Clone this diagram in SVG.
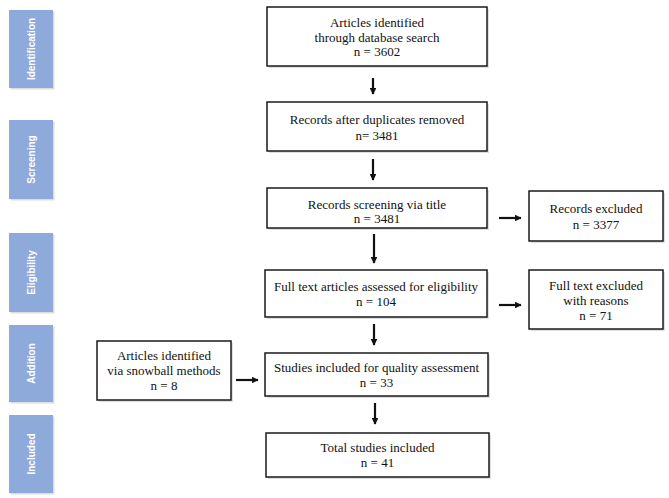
<svg xmlns="http://www.w3.org/2000/svg" width="669" height="498" viewBox="0 0 669 498">
<style>
.box{fill:#ffffff;stroke:#1a1a1a;stroke-width:1.5}
.shd{fill:#c8c8c8;opacity:0.6}
.t{font-family:"Liberation Serif","Times New Roman",serif;font-size:13px;fill:#111;text-anchor:middle}
.side{fill:#8eaadb}
.st{font-family:"Liberation Sans",Arial,sans-serif;font-size:10px;font-weight:bold;fill:#ffffff;text-anchor:middle}
.c{stroke:#111;stroke-width:2.2;fill:none}
</style>
<defs>
<marker id="ah" viewBox="0 0 10 10" refX="9" refY="5" markerWidth="3" markerHeight="3" orient="auto" markerUnits="strokeWidth">
<path d="M0,0 L10,5 L0,10 z" fill="#111"/>
</marker>
</defs>
<rect width="669" height="498" fill="#ffffff"/>

<g id="phase-identification">
<rect x="10.5" y="11.5" width="44" height="78" class="shd"/>
<rect x="9" y="10" width="44" height="78" class="side"/>
<text class="st" transform="translate(34.5,49) rotate(-90)">Identification</text>
</g>
<g id="phase-screening">
<rect x="10.5" y="121.5" width="44" height="79" class="shd"/>
<rect x="9" y="120" width="44" height="79" class="side"/>
<text class="st" transform="translate(34.5,159.5) rotate(-90)">Screening</text>
</g>
<g id="phase-eligibility">
<rect x="10.5" y="234.5" width="44" height="79" class="shd"/>
<rect x="9" y="233" width="44" height="79" class="side"/>
<text class="st" transform="translate(34.5,272.5) rotate(-90)">Eligibility</text>
</g>
<g id="phase-addition">
<rect x="10.5" y="326.5" width="44" height="77" class="shd"/>
<rect x="9" y="325" width="44" height="77" class="side"/>
<text class="st" transform="translate(34.5,363.5) rotate(-90)">Addition</text>
</g>
<g id="phase-included">
<rect x="10.5" y="416.5" width="44" height="78" class="shd"/>
<rect x="9" y="415" width="44" height="78" class="side"/>
<text class="st" transform="translate(34.5,454) rotate(-90)">Included</text>
</g>

<g id="n-identified">
<rect x="269" y="9" width="220" height="59" class="shd"/>
<rect x="267" y="7" width="220" height="59" class="box"/>
<text class="t" x="377" y="27">Articles identified</text>
<text class="t" x="377" y="41.5">through database search</text>
<text class="t" x="377" y="56">n = 3602</text>
</g>
<g id="n-duplicates">
<rect x="269" y="104" width="220" height="49" class="shd"/>
<rect x="267" y="102" width="220" height="49" class="box"/>
<text class="t" x="377" y="124">Records after duplicates removed</text>
<text class="t" x="377" y="139.5">n= 3481</text>
</g>
<g id="n-screening">
<rect x="269" y="190" width="220" height="40" class="shd"/>
<rect x="267" y="188" width="220" height="40" class="box"/>
<text class="t" x="377" y="209">Records screening via title</text>
<text class="t" x="377" y="223">n = 3481</text>
</g>
<g id="n-fulltext">
<rect x="267" y="272" width="222" height="47" class="shd"/>
<rect x="265" y="270" width="222" height="47" class="box"/>
<text class="t" x="376" y="291">Full text articles assessed for eligibility</text>
<text class="t" x="376" y="306">n = 104</text>
</g>
<g id="n-quality">
<rect x="267" y="355" width="223" height="43" class="shd"/>
<rect x="265" y="353" width="223" height="43" class="box"/>
<text class="t" x="376.5" y="372">Studies included for quality assessment</text>
<text class="t" x="376.5" y="387">n = 33</text>
</g>
<g id="n-total">
<rect x="268" y="435" width="223" height="44" class="shd"/>
<rect x="266" y="433" width="223" height="44" class="box"/>
<text class="t" x="377.5" y="452">Total studies included</text>
<text class="t" x="377.5" y="467">n = 41</text>
</g>
<g id="n-excluded">
<rect x="531" y="193" width="134" height="50" class="shd"/>
<rect x="529" y="191" width="134" height="50" class="box"/>
<text class="t" x="596" y="213">Records excluded</text>
<text class="t" x="596" y="229">n = 3377</text>
</g>
<g id="n-fulltext-excluded">
<rect x="531" y="272" width="134" height="59" class="shd"/>
<rect x="529" y="270" width="134" height="59" class="box"/>
<text class="t" x="596" y="290">Full text excluded</text>
<text class="t" x="596" y="305">with reasons</text>
<text class="t" x="596" y="320">n = 71</text>
</g>
<g id="n-snowball">
<rect x="99" y="343" width="134" height="59" class="shd"/>
<rect x="97" y="341" width="134" height="59" class="box"/>
<text class="t" x="164" y="360">Articles identified</text>
<text class="t" x="164" y="375">via snowball methods</text>
<text class="t" x="164" y="390">n = 8</text>
</g>

<g id="connectors">
<line class="c" x1="373" y1="78" x2="373" y2="94" marker-end="url(#ah)"/>
<line class="c" x1="373" y1="159" x2="373" y2="180" marker-end="url(#ah)"/>
<line class="c" x1="374" y1="234" x2="374" y2="263" marker-end="url(#ah)"/>
<line class="c" x1="374" y1="324" x2="374" y2="345" marker-end="url(#ah)"/>
<line class="c" x1="375" y1="403" x2="375" y2="424" marker-end="url(#ah)"/>
<line class="c" x1="499" y1="218" x2="521" y2="218" marker-end="url(#ah)"/>
<line class="c" x1="499" y1="305" x2="521" y2="305" marker-end="url(#ah)"/>
<line class="c" x1="236" y1="380" x2="258" y2="380" marker-end="url(#ah)"/>
</g>
</svg>
